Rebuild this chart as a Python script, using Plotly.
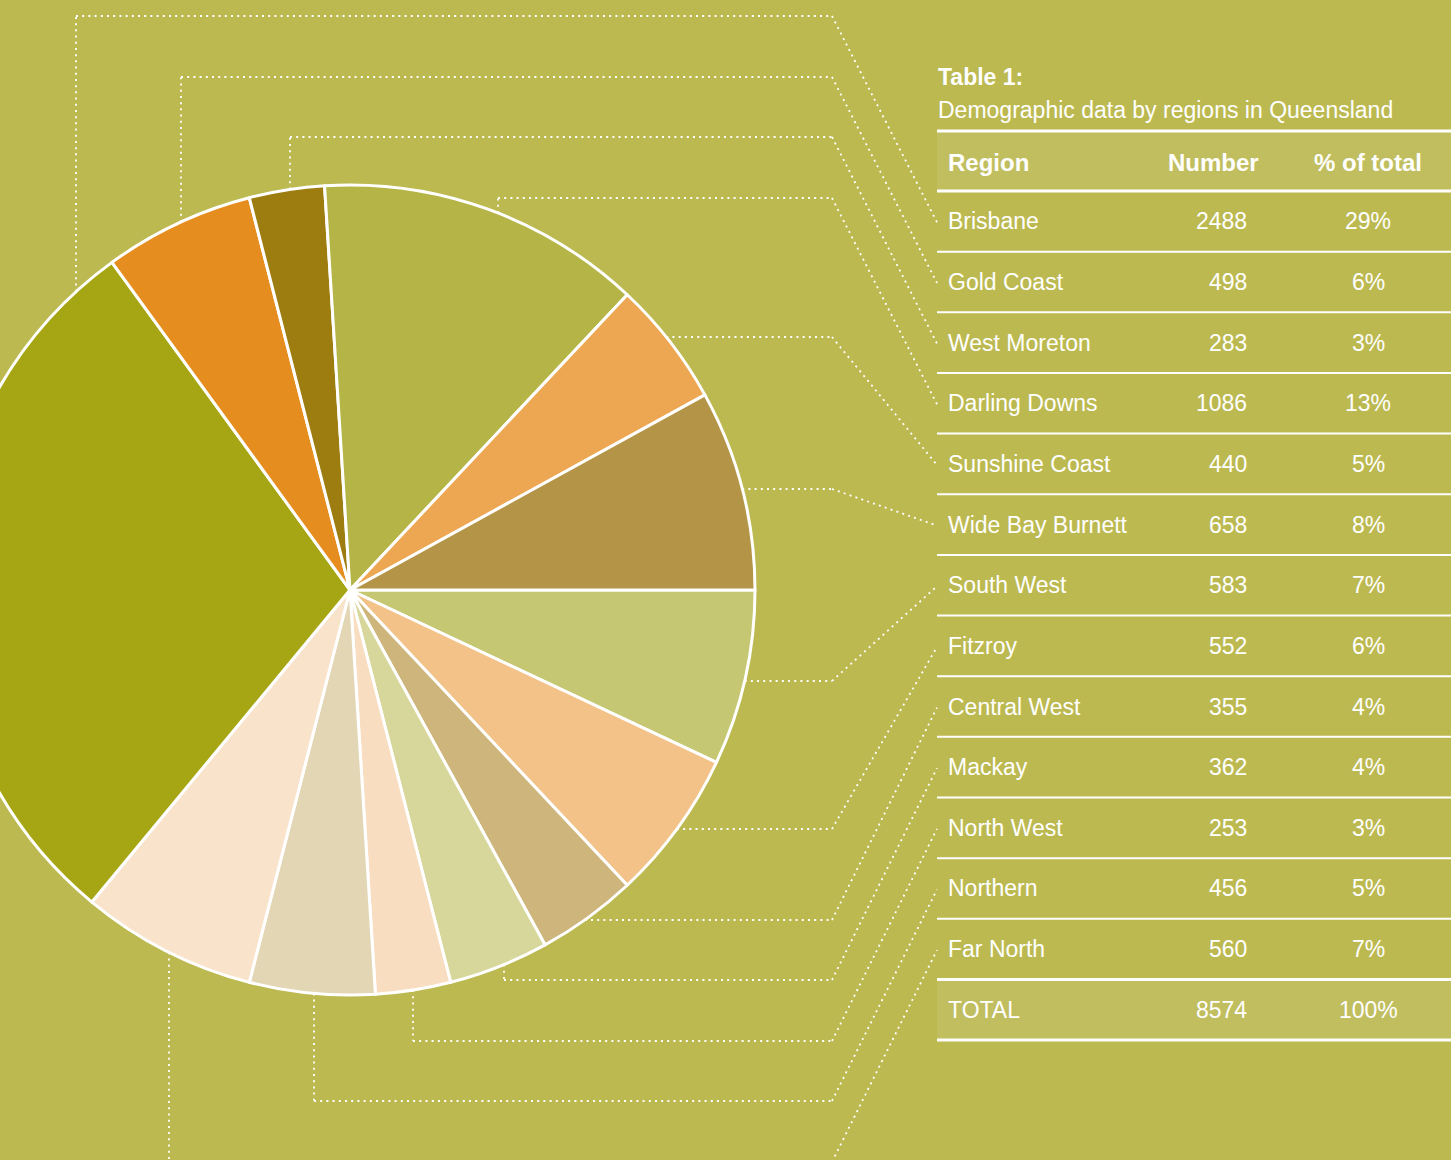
import plotly.graph_objects as go
import math

# ---------------- data ----------------
regions = ["Brisbane", "Gold Coast", "West Moreton", "Darling Downs", "Sunshine Coast",
           "Wide Bay Burnett", "South West", "Fitzroy", "Central West", "Mackay",
           "North West", "Northern", "Far North"]
numbers = [2488, 498, 283, 1086, 440, 658, 583, 552, 355, 362, 253, 456, 560]
percent_of_total = [29, 6, 3, 13, 5, 8, 7, 6, 4, 4, 3, 5, 7]
total_label = "TOTAL"
total_number = 8574
total_percent = 100
table_title = "Table 1:"
table_subtitle = "Demographic data by regions in Queensland"
header = ["Region", "Number", "% of total"]

# order of slices clockwise starting at 3 o'clock
pie_order = ["South West", "Fitzroy", "Central West", "Mackay", "North West", "Northern",
             "Far North", "Brisbane", "Gold Coast", "West Moreton", "Darling Downs",
             "Sunshine Coast", "Wide Bay Burnett"]

# ---------------- styles ----------------
slice_colors = {
    "Brisbane": "#A6A513", "Gold Coast": "#E58E1F", "West Moreton": "#9E7D10",
    "Darling Downs": "#B5B446", "Sunshine Coast": "#EDA651", "Wide Bay Burnett": "#B49548",
    "South West": "#C6C773", "Fitzroy": "#F2C289", "Central West": "#CDB57C",
    "Mackay": "#D7D69B", "North West": "#F8DDC0", "Northern": "#E3D6B4",
    "Far North": "#F9E3CB",
}
BG = "#BCB951"
BAND = "#C1BE5F"
WHITE = "#FFFFFF"
FONT = "Liberation Sans"

# ---------------- layout geometry (screen px) ----------------
SCREEN_W, H = 1451, 1160
SHIFT = 55                      # pie is cut off at the left edge
W = SCREEN_W + SHIFT
CX, CY, R = 350, 590, 405       # pie centre / radius on screen

def X(px):
    return (px + SHIFT) / W

def Y(py):
    return 1 - py / H

TABLE_L, TABLE_R = 937, 1451
HEAD_TOP, HEAD_BOT = 131, 191
ROW_H = 60.65
TEXT_L = 946
NUM_R = 1249
PCT_C = 1368
ELBOW_X = 832

# leader anchors: ("v", x of vertical, y of horizontal) or ("h", None, y of horizontal)
leaders = {
    "Brisbane": ("v", 76, 16), "Gold Coast": ("v", 181, 77), "West Moreton": ("v", 290, 137),
    "Darling Downs": ("v", 498, 198), "Sunshine Coast": ("h", None, 337),
    "Wide Bay Burnett": ("h", None, 489), "South West": ("h", None, 681),
    "Fitzroy": ("h", None, 829), "Central West": ("h", None, 920),
    "Mackay": ("v", 504, 980), "North West": ("v", 413, 1041),
    "Northern": ("v", 314, 1101), "Far North": ("v", 169, 1162),
}

fig = go.Figure()

fig.add_trace(go.Pie(
    labels=pie_order,
    values=[percent_of_total[regions.index(r)] for r in pie_order],
    customdata=[numbers[regions.index(r)] for r in pie_order],
    marker=dict(colors=[slice_colors[r] for r in pie_order], line=dict(color=WHITE, width=3)),
    sort=False, direction="clockwise", rotation=90,
    textinfo="none", hovertemplate="%{label}: %{customdata} (%{value}%)<extra></extra>",
    showlegend=False,
    domain=dict(x=[X(CX - R), X(CX + R)], y=[Y(CY + R), Y(CY - R)]),
))

shapes = []
annotations = []

def line(x0, y0, x1, y1, width, color=WHITE, dash="solid"):
    shapes.append(dict(type="line", xref="paper", yref="paper",
                       x0=X(x0), y0=Y(y0), x1=X(x1), y1=Y(y1),
                       line=dict(color=color, width=width, dash=dash)))

def text(t, x, y, anchor="left", size=23, bold=False):
    annotations.append(dict(text=t, xref="paper", yref="paper", x=X(x), y=Y(y),
                            xanchor=anchor, yanchor="middle", showarrow=False,
                            font=dict(family=FONT, size=size, color=WHITE,
                                      weight="bold" if bold else "normal")))

# header bands
n_rows = len(regions)
total_top = HEAD_BOT + ROW_H * n_rows
total_bot = total_top + ROW_H
for top, bot in [(HEAD_TOP, HEAD_BOT), (total_top, total_bot)]:
    shapes.append(dict(type="rect", xref="paper", yref="paper", layer="below",
                       x0=X(TABLE_L), x1=X(TABLE_R), y0=Y(bot), y1=Y(top),
                       fillcolor=BAND, line=dict(width=0)))

# table lines
line(TABLE_L, HEAD_TOP, TABLE_R, HEAD_TOP, 3)
line(TABLE_L, HEAD_BOT, TABLE_R, HEAD_BOT, 3)
for i in range(1, n_rows):
    yy = HEAD_BOT + ROW_H * i
    line(TABLE_L, yy, TABLE_R, yy, 2)
line(TABLE_L, total_top, TABLE_R, total_top, 3)
line(TABLE_L, total_bot, TABLE_R, total_bot, 3)

# titles
text(table_title, 936, 77, bold=True, size=23)
text(table_subtitle, 936, 110, size=23)
text(header[0], TEXT_L, 162, bold=True, size=24)
text(header[1], 1213, 162, anchor="center", bold=True, size=24)
text(header[2], PCT_C, 162, anchor="center", bold=True, size=24)

# rows
for i, (reg, num, pct) in enumerate(zip(regions, numbers, percent_of_total)):
    yc = HEAD_BOT + ROW_H * (i + 0.5)
    text(reg, TEXT_L, yc)
    text(str(num), NUM_R, yc, anchor="right")
    text(f"{pct}%", PCT_C, yc, anchor="center")
yc = total_top + ROW_H / 2
text(total_label, TEXT_L, yc)
text(str(total_number), NUM_R, yc, anchor="right")
text(f"{total_percent}%", PCT_C, yc, anchor="center")

# leader lines
DOT = "2px,4.2px"
LW = 1.8
for i, reg in enumerate(regions):
    kind, vx, hy = leaders[reg]
    row_y = HEAD_BOT + ROW_H * (i + 0.5) + 1
    if kind == "v":
        d = math.sqrt(max(R * R - (vx - CX) ** 2, 0))
        ey = CY - d if hy < CY else CY + d
        line(vx, ey, vx, hy, LW, dash=DOT)
        line(vx, hy, ELBOW_X, hy, LW, dash=DOT)
    else:
        ex = CX + math.sqrt(R * R - (hy - CY) ** 2)
        line(ex, hy, ELBOW_X, hy, LW, dash=DOT)
    line(ELBOW_X, hy, TABLE_L, row_y, LW, dash=DOT)

fig.update_layout(
    width=W, height=H,
    margin=dict(l=0, r=0, t=0, b=0, pad=0),
    paper_bgcolor=BG, plot_bgcolor=BG,
    shapes=shapes, annotations=annotations,
    showlegend=False,
)

post = """
document.documentElement.style.overflow='hidden';
document.body.style.margin='0';
document.body.style.overflow='hidden';
var gd=document.getElementById('{plot_id}');
gd.style.marginLeft='-%dpx';
""" % SHIFT

fig.write_html("out.html", post_script=post)
